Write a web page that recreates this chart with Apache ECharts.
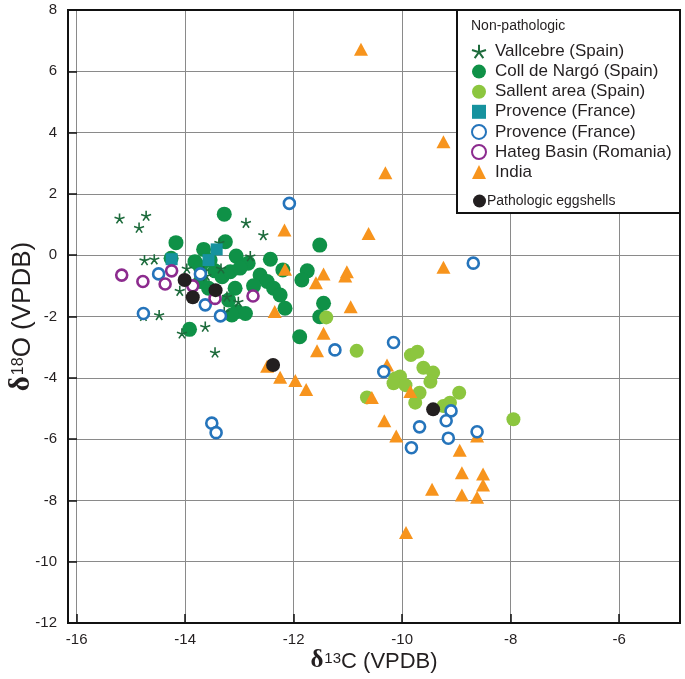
<!DOCTYPE html>
<html>
<head>
<meta charset="utf-8">
<script src="https://cdn.jsdelivr.net/npm/echarts@6/dist/echarts.min.js"></script>
<style>
html,body{margin:0;padding:0;background:#fff;}
#chart{width:685px;height:679px;}
</style>
</head>
<body>
<div id="chart"></div>
<script>
// ---- Data (δ13C, δ18O) ----
const vallcebre = [[-15.21,1.20],[-14.72,1.29],[-14.85,0.90],[-12.88,1.06],[-12.56,0.66],[-13.37,0.41],[-14.75,-0.16],[-14.57,-0.13],[-12.80,-0.03],[-13.97,-0.43],[-13.66,-0.51],[-13.34,-0.43],[-13.61,-0.67],[-14.10,-1.16],[-13.23,-1.35],[-13.02,-1.52],[-13.28,-1.84],[-14.77,-1.98],[-14.48,-1.95],[-13.63,-2.33],[-14.06,-2.55],[-13.45,-3.17]];
const collDeNargo = [[-13.28,1.34],[-14.17,0.41],[-13.26,0.44],[-13.66,0.19],[-13.06,-0.03],[-12.84,-0.26],[-12.43,-0.13],[-13.82,-0.21],[-13.72,-0.39],[-13.45,-0.51],[-13.32,-0.70],[-13.17,-0.54],[-12.62,-0.65],[-12.49,-0.86],[-12.37,-1.08],[-12.25,-1.30],[-12.74,-1.00],[-13.08,-1.08],[-13.72,-0.86],[-13.57,-1.08],[-13.20,-1.46],[-13.05,-1.84],[-12.89,-1.90],[-13.14,-1.95],[-12.16,-1.73],[-13.92,-2.42],[-11.89,-2.66],[-11.52,0.33],[-11.75,-0.51],[-11.85,-0.81],[-12.20,-0.48],[-11.45,-1.57],[-11.52,-2.01],[-14.26,-0.10],[-13.54,-0.16],[-12.99,-0.42]];
const sallent = [[-11.40,-2.03],[-10.84,-3.12],[-10.65,-4.64],[-9.84,-3.26],[-9.72,-3.15],[-9.61,-3.67],[-9.43,-3.83],[-10.13,-4.02],[-10.04,-3.96],[-10.16,-4.18],[-9.94,-4.24],[-9.48,-4.13],[-9.68,-4.49],[-9.76,-4.81],[-8.95,-4.49],[-9.24,-4.92],[-9.12,-4.81],[-7.95,-5.35]];
const provenceSquares = [[-13.42,0.19],[-13.57,-0.16],[-14.25,-0.13]];
const provenceCircles = [[-12.08,1.69],[-14.49,-0.61],[-13.72,-0.61],[-13.63,-1.62],[-13.35,-1.98],[-14.77,-1.90],[-13.51,-5.48],[-13.43,-5.79],[-11.24,-3.09],[-10.16,-2.85],[-10.34,-3.80],[-8.69,-0.26],[-9.10,-5.08],[-9.19,-5.40],[-9.68,-5.60],[-8.62,-5.76],[-9.15,-5.97],[-9.83,-6.28]];
const hateg = [[-15.17,-0.65],[-14.78,-0.86],[-14.37,-0.94],[-14.25,-0.51],[-13.86,-1.00],[-13.45,-1.41],[-12.75,-1.33]];
const india = [[-10.76,6.72],[-9.24,3.70],[-10.31,2.69],[-12.17,0.82],[-10.62,0.71],[-12.16,-0.46],[-11.45,-0.61],[-11.02,-0.54],[-11.05,-0.68],[-11.59,-0.90],[-9.24,-0.39],[-10.95,-1.68],[-12.35,-1.84],[-11.45,-2.55],[-11.57,-3.12],[-12.49,-3.62],[-12.25,-3.98],[-11.97,-4.09],[-11.77,-4.38],[-10.56,-4.64],[-10.28,-3.58],[-9.85,-4.45],[-10.33,-5.40],[-10.11,-5.90],[-8.62,-5.90],[-8.94,-6.36],[-8.90,-7.10],[-8.51,-7.14],[-8.51,-7.50],[-9.45,-7.64],[-8.90,-7.82],[-8.62,-7.90],[-9.93,-9.05]];
const pathologic = [[-14.01,-0.81],[-13.86,-1.37],[-13.44,-1.14],[-12.38,-3.58],[-9.43,-5.03]];

const seriesNames = ['Vallcebre (Spain)','Coll de Nargó (Spain)','Sallent area (Spain)','Provence (France)','Provence (France) ','Hateg Basin (Romania)','India'];
const pathoName = 'Pathologic eggshells';
const legendTitle = 'Non-pathologic';
const xName = ['δ','13','C (VPDB)'];
const yName = ['δ','18','O (VPDB)'];

const FONT = '"Liberation Sans", Arial, Helvetica, sans-serif';
const SERIF = '"Liberation Serif", "Times New Roman", serif';
const starPath = 'path://M0,0L0,-10M0,0L9.51,-3.09M0,0L5.88,8.09M0,0L-5.88,8.09M0,0L-9.51,-3.09';

function nameRich(size, supSize, lift){
  return {
    d:{fontSize:size+3,fontFamily:SERIF,fontWeight:'bold',color:'#231f20',verticalAlign:'bottom',lineHeight:size+6},
    a:{fontSize:size,fontFamily:FONT,color:'#231f20',verticalAlign:'bottom',lineHeight:size+6},
    s:{fontSize:supSize,fontFamily:FONT,color:'#231f20',verticalAlign:'bottom',lineHeight:size+6,padding:[0,0,lift,1]}
  };
}

const chart = echarts.init(document.getElementById('chart'), null, {renderer:'canvas'});
const option = {
  animation:false,
  backgroundColor:'#fff',
  grid:{left:68,right:5,top:10,bottom:56,show:true,borderColor:'#111',borderWidth:2,backgroundColor:'transparent',z:3,
        outerBoundsMode:'none',containLabel:false},
  xAxis:{
    type:'value', min:-16.16, max:-4.88, minInterval:2, maxInterval:2,
    axisLine:{show:false,onZero:false},
    axisTick:{show:true,inside:true,length:9,lineStyle:{color:'#111',width:1.5}},
    splitLine:{show:true,lineStyle:{color:'#8a8a8a',width:1}},
    axisLabel:{color:'#231f20',fontSize:15,fontFamily:FONT,margin:9,
      formatter:v=>Number.isInteger(v)?String(v):''},
    name:'{d|'+xName[0]+'}{s|'+xName[1]+'}{a|'+xName[2]+'}',
    nameLocation:'middle', nameGap:22, nameMoveOverlap:false,
    nameTextStyle:{rich:nameRich(22,15,7)}
  },
  yAxis:{
    type:'value', min:-12, max:8, interval:2,
    axisLine:{show:false,onZero:false},
    axisTick:{show:true,inside:true,length:9,lineStyle:{color:'#111',width:1.5}},
    splitLine:{show:true,lineStyle:{color:'#8a8a8a',width:1}},
    axisLabel:{color:'#231f20',fontSize:15,fontFamily:FONT,margin:11},
    name:'{d|'+yName[0]+'}{s|'+yName[1]+'}{a|'+yName[2]+'}',
    nameLocation:'middle', nameGap:32, nameRotate:90, nameMoveOverlap:false,
    nameTextStyle:{rich:nameRich(26,16,9)}
  },
  graphic:[
    {type:'rect',z:50,shape:{x:457,y:10,width:223,height:203},style:{fill:'#fff',stroke:'#111',lineWidth:2}},
    {type:'text',z:51,left:471,top:19,style:{text:legendTitle,fontSize:14,fontFamily:FONT,fill:'#231f20'}}
  ],
  legend:[
    {z:60,orient:'vertical',left:466,top:38,itemWidth:14,itemHeight:14,itemGap:3.1,
     data:seriesNames,
     textStyle:{fontSize:17,fontFamily:FONT,color:'#231f20',padding:[0,0,0,4]}},
    {z:60,orient:'vertical',left:468,top:189,itemWidth:13,itemHeight:13,
     data:[pathoName],
     textStyle:{fontSize:14,fontFamily:FONT,color:'#231f20',padding:[0,0,0,-4]}}
  ],
  series:[
    {name:seriesNames[0],type:'scatter',z:5,data:vallcebre,symbol:starPath,symbolSize:10,
     itemStyle:{color:'#1d6b3c',borderColor:'#1d6b3c',borderWidth:1.6,opacity:1}},
    {name:seriesNames[1],type:'scatter',z:2,data:collDeNargo,symbol:'circle',symbolSize:15,
     itemStyle:{color:'#0f9147',opacity:1}},
    {name:seriesNames[2],type:'scatter',z:3,data:sallent,symbol:'circle',symbolSize:14,
     itemStyle:{color:'#8cc63f',opacity:1}},
    {name:seriesNames[3],type:'scatter',z:6,data:provenceSquares,symbol:'rect',symbolSize:12,
     itemStyle:{color:'#16929e',opacity:1}},
    {name:seriesNames[4],type:'scatter',z:7,data:provenceCircles,symbol:'circle',symbolSize:11,
     itemStyle:{color:'#fff',borderColor:'#2574bb',borderWidth:2.6,opacity:1}},
    {name:seriesNames[5],type:'scatter',z:8,data:hateg,symbol:'circle',symbolSize:11,
     itemStyle:{color:'#fff',borderColor:'#8c2b8e',borderWidth:2.6,opacity:1}},
    {name:seriesNames[6],type:'scatter',z:4,data:india,symbol:'triangle',symbolSize:[14,13],
     itemStyle:{color:'#f7941d',opacity:1}},
    {name:pathoName,type:'scatter',z:9,data:pathologic,symbol:'circle',symbolSize:14,
     itemStyle:{color:'#231f20',opacity:1}}
  ]
};
chart.setOption(option);
</script>
</body>
</html>
